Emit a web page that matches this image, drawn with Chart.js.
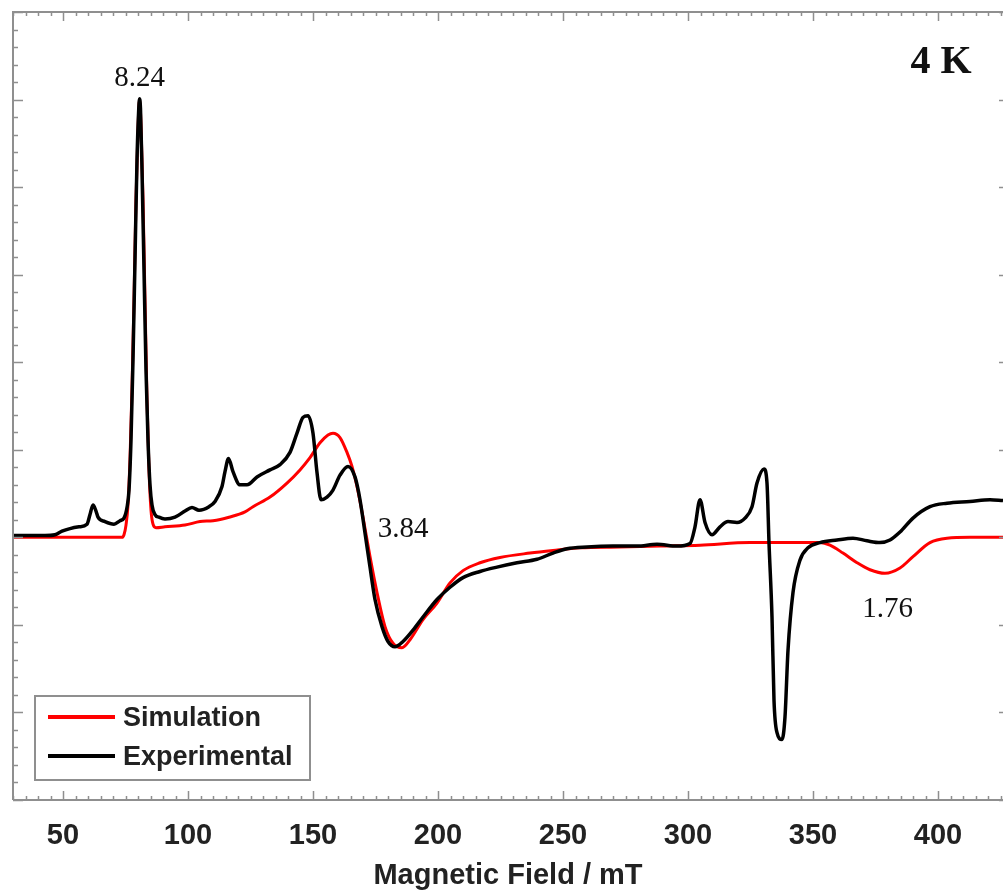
<!DOCTYPE html>
<html lang="en">
<head>
    <meta charset="UTF-8">
    <title>EPR Spectrum 4 K</title>
    <script src="https://cdn.jsdelivr.net/npm/chart.js@4.4.0/dist/chart.umd.min.js"></script>
    <style>
        body {
            margin: 0;
            padding: 0;
            background-color: #ffffff;
            overflow: hidden;
        }

        .chart-container {
            position: relative;
            width: 1003px;
            height: 890px;
        }
    </style>
</head>
<body>
    <div class="chart-container">
        <canvas id="epr-chart"></canvas>
    </div>

    <script>
        // Magnetic field (mT) and signal (arb. units)
        const expField = [30.0, 36.8, 42.8, 46.8, 49.6, 52.8, 56.4, 59.6, 60.8, 62.0, 63.2, 64.0, 66.8, 70.4,
            72.8, 74.4, 75.6, 76.4, 77.2, 78.0, 78.8, 79.6, 80.2, 80.6, 81.0, 81.6, 82.4, 83.2, 84.0, 84.8,
            85.6, 86.8, 88.4, 90.8, 94.8, 98.8, 101.6, 104.4, 108.4, 110.8, 113.6, 114.8, 116.2, 118.0, 120.8,
            123.6, 127.6, 132.8, 136.8, 140.8, 143.6, 146.0, 148.0, 150.0, 151.6, 153.2, 155.6, 158.0, 160.8,
            164.0, 166.8, 168.8, 170.8, 172.8, 174.8, 177.6, 180.0, 182.8, 186.0, 190.0, 194.0, 199.6, 204.8,
            210.0, 216.8, 223.6, 231.6, 239.6, 246.0, 251.6, 259.6, 270.0, 279.6, 287.6, 295.6, 300.8, 302.8,
            304.8, 306.8, 309.6, 312.8, 316.0, 319.6, 322.8, 325.6, 327.6, 330.4, 331.6, 332.4, 333.6, 334.4,
            335.6, 337.6, 338.8, 340.0, 342.0, 344.8, 348.0, 352.8, 359.6, 366.0, 371.6, 376.8, 380.8, 384.8,
            390.0, 396.8, 403.6, 412.8, 420.8, 426.0];
        const expSignal = [0.02, 0.02, 0.02, 0.03, 0.07, 0.10, 0.12, 0.15, 0.26, 0.37, 0.30, 0.23, 0.18, 0.15,
            0.19, 0.22, 0.34, 0.54, 1.11, 2.03, 3.17, 4.31, 4.83, 5.01, 4.89, 4.20, 3.06, 1.91, 1.11, 0.60,
            0.37, 0.26, 0.23, 0.21, 0.23, 0.30, 0.34, 0.31, 0.35, 0.41, 0.58, 0.75, 0.90, 0.75, 0.60,
            0.60, 0.69, 0.77, 0.83, 0.97, 1.19, 1.37, 1.39, 1.19, 0.74, 0.43, 0.46, 0.54, 0.71,
            0.81, 0.69, 0.43, 0.05, -0.34, -0.71, -1.02, -1.19, -1.25, -1.19, -1.06, -0.91, -0.71, -0.57,
            -0.46, -0.39, -0.34, -0.29, -0.25, -0.18, -0.13, -0.11, -0.10, -0.10, -0.08, -0.10, -0.07, 0.12,
            0.43, 0.17, 0.03, 0.12, 0.18, 0.17, 0.22, 0.35, 0.62, 0.78, 0.62, -0.06, -0.91, -1.86,
            -2.23, -2.31, -2.05, -1.29, -0.63, -0.26, -0.12, -0.06, -0.03, -0.01, -0.04, -0.06, -0.03, 0.06,
            0.22, 0.35, 0.39, 0.41, 0.43, 0.42];

        const simField = [30.0, 73.6, 74.4, 75.2, 76.0, 76.8, 77.6, 78.4, 79.2, 80.0, 80.6, 81.2, 82.0, 82.8,
            83.6, 84.4, 85.2, 86.0, 87.2, 90.8, 98.8, 104.8, 110.0, 116.4, 122.8, 126.0, 132.8, 139.6, 144.8,
            148.8, 152.8, 156.0, 158.0, 160.8, 163.6, 165.6, 167.6, 170.0, 172.8, 175.6, 178.8, 182.0, 185.6,
            188.8, 194.0, 199.6, 204.8, 210.0, 216.8, 224.8, 236.8, 246.0, 256.8, 272.8, 288.8, 304.8, 324.8,
            344.8, 352.8, 356.8, 362.0, 367.6, 372.8, 378.8, 384.8, 390.0, 396.8, 403.6, 412.8, 426.0];
        const simSignal = [0.0, 0.0, 0.03, 0.14, 0.37, 0.89, 1.69, 2.71, 3.86, 4.66, 5.00, 4.71, 3.86, 2.71,
            1.57, 0.77, 0.31, 0.15, 0.11, 0.12, 0.14, 0.18, 0.19, 0.23, 0.29, 0.35, 0.46, 0.62, 0.77,
            0.91, 1.08, 1.17, 1.19, 1.14, 0.97, 0.81, 0.58, 0.23, -0.22, -0.63, -1.02, -1.21, -1.26,
            -1.17, -0.94, -0.75, -0.52, -0.38, -0.29, -0.23, -0.18, -0.15, -0.12, -0.11, -0.10, -0.09, -0.06,
            -0.06, -0.06, -0.09, -0.18, -0.29, -0.37, -0.41, -0.35, -0.22, -0.06, -0.01, 0.0, 0.0];

        const xTicks = [50, 100, 150, 200, 250, 300, 350, 400];

        // g-value labels placed in data coordinates (text baseline)
        const gLabels = ['8.24', '3.84', '1.76'];
        const gLabelField = [80.6, 186.0, 379.8];
        const gLabelSignal = [5.16, 0.0, -0.905];

        const axisGray = '#8f8f8f';
        const textColor = '#222222';

        function toPoints(xs, ys) {
            return xs.map((v, i) => ({ x: v, y: ys[i] }));
        }

        // Frame, inward tick marks, annotations and the boxed legend
        const framePlugin = {
            id: 'frame',
            afterDraw(chart) {
                const ctx = chart.ctx;
                const a = chart.chartArea;
                const x = chart.scales.x;
                const y = chart.scales.y;

                ctx.save();
                ctx.strokeStyle = axisGray;
                ctx.lineWidth = 2;
                ctx.beginPath();
                ctx.moveTo(a.left, a.bottom);
                ctx.lineTo(a.left, a.top);
                ctx.lineTo(a.right, a.top);
                ctx.moveTo(a.left, a.bottom);
                ctx.lineTo(a.right, a.bottom);
                ctx.stroke();

                ctx.lineWidth = 1.5;
                ctx.beginPath();
                for (let v = 30; v <= 425; v += 5) {
                    const px = Math.round(x.getPixelForValue(v)) + 0.5;
                    const len = v % 50 === 0 ? 9 : 4;
                    ctx.moveTo(px, a.bottom);
                    ctx.lineTo(px, a.bottom - len);
                    ctx.moveTo(px, a.top);
                    ctx.lineTo(px, a.top + len);
                }
                for (let i = -15; i <= 30; i++) {
                    const py = Math.round(y.getPixelForValue(i / 5)) + 0.5;
                    const major = i % 5 === 0;
                    ctx.moveTo(a.left, py);
                    ctx.lineTo(a.left + (major ? 10 : 5), py);
                    if (major) {
                        ctx.moveTo(a.right, py);
                        ctx.lineTo(a.right - 4, py);
                    }
                }
                ctx.stroke();

                // g-values
                ctx.fillStyle = '#111111';
                ctx.textAlign = 'center';
                ctx.textBaseline = 'alphabetic';
                ctx.font = '29px "Liberation Serif", "Times New Roman", serif';
                gLabels.forEach((t, i) => {
                    ctx.fillText(t, x.getPixelForValue(gLabelField[i]), y.getPixelForValue(gLabelSignal[i]));
                });

                // temperature tag
                ctx.font = 'bold 40px "Liberation Serif", "Times New Roman", serif';
                ctx.fillText('4 K', x.getPixelForValue(401.2), y.getPixelForValue(5.30));

                // legend box
                const bx = 35, by = 696, bw = 275, bh = 84;
                ctx.fillStyle = '#ffffff';
                ctx.fillRect(bx, by, bw, bh);
                ctx.strokeStyle = axisGray;
                ctx.lineWidth = 2;
                ctx.strokeRect(bx, by, bw, bh);

                ctx.font = 'bold 27px "Liberation Sans", Arial, sans-serif';
                ctx.textAlign = 'left';
                ctx.textBaseline = 'middle';
                chart.data.datasets.forEach((ds, i) => {
                    const ly = by + 21 + i * 39;
                    ctx.strokeStyle = ds.borderColor;
                    ctx.lineWidth = 4;
                    ctx.beginPath();
                    ctx.moveTo(48, ly);
                    ctx.lineTo(115, ly);
                    ctx.stroke();
                    ctx.fillStyle = textColor;
                    ctx.fillText(ds.label, 123, ly + 2);
                });
                ctx.restore();
            }
        };

        new Chart(document.getElementById('epr-chart'), {
            type: 'line',
            data: {
                datasets: [
                    {
                        label: 'Simulation',
                        data: toPoints(simField, simSignal),
                        borderColor: '#ff0000',
                        borderWidth: 3,
                        pointRadius: 0,
                        cubicInterpolationMode: 'monotone',
                        order: 1
                    },
                    {
                        label: 'Experimental',
                        data: toPoints(expField, expSignal),
                        borderColor: '#000000',
                        borderWidth: 3.5,
                        pointRadius: 0,
                        cubicInterpolationMode: 'monotone',
                        order: 0
                    }
                ]
            },
            options: {
                responsive: true,
                maintainAspectRatio: false,
                animation: false,
                layout: {
                    padding: { left: 13, top: 12, right: 0, bottom: 0 }
                },
                plugins: {
                    legend: { display: false },
                    tooltip: { enabled: false }
                },
                scales: {
                    x: {
                        type: 'linear',
                        min: 30,
                        max: 426,
                        grid: { display: false, drawTicks: false },
                        border: { display: false },
                        afterBuildTicks: (scale) => {
                            scale.ticks = xTicks.map(v => ({ value: v }));
                        },
                        afterFit: (scale) => {
                            scale.height = 90;
                        },
                        ticks: {
                            padding: 19,
                            maxRotation: 0,
                            color: textColor,
                            font: { family: '"Liberation Sans", Arial, sans-serif', size: 29, weight: 'bold' }
                        },
                        title: {
                            display: true,
                            text: 'Magnetic Field / mT',
                            color: textColor,
                            padding: { top: 0, bottom: 0 },
                            font: { family: '"Liberation Sans", Arial, sans-serif', size: 29, weight: 'bold', lineHeight: 1 }
                        }
                    },
                    y: {
                        display: false,
                        min: -3,
                        max: 6
                    }
                }
            },
            plugins: [framePlugin]
        });
    </script>
</body>
</html>
